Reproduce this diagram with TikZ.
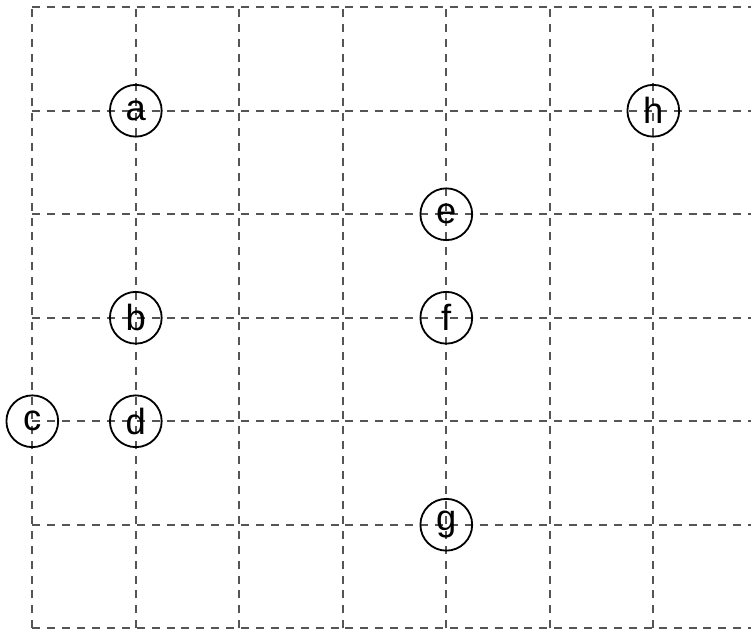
\documentclass[tikz,border=0pt]{standalone}
\usepackage{fontspec}
\setmainfont{Liberation Sans}
\usepackage{tikz}
\usetikzlibrary{positioning}
\definecolor{izgaraGri}{HTML}{555555}

\begin{document}
\begin{tikzpicture}[every node/.style={font=\normalsize},
  izgara/.style={draw=izgaraGri,line width=0.5pt,dash pattern=on 2.2pt off 1.9pt},
  nokta/.style={draw,circle,minimum size=0.5cm,inner sep=0pt,line width=0.5pt}]
\useasboundingbox (-0.312,-0.016) rectangle (6.944,6.07);
\draw[izgara] (0,0) grid (7,6);
\node[nokta] (a) at (1,5) {a};
\node[nokta] (h) at (6,5) {h};
\node[nokta] (e) at (4,4) {e};
\node[nokta] (b) at (1,3) {b};
\node[nokta] (f) at (4,3) {f};
\node[nokta] (c) at (0,2) {c};
\node[nokta] (d) at (1,2) {d};
\node[nokta] (g) at (4,1) {g};
\end{tikzpicture}
\end{document}
